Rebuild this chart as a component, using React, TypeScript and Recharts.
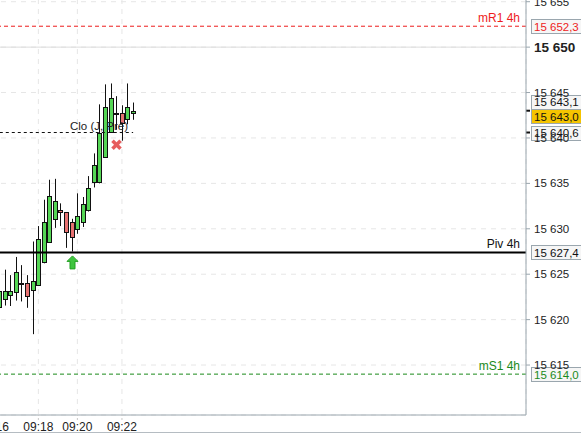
import React from 'react';
import {
  ComposedChart,
  Bar,
  Scatter,
  XAxis,
  YAxis,
  CartesianGrid,
  ReferenceLine,
} from 'recharts';

// candles (oldest first), prices
const opens = [15620.6, 15621.4, 15622.3, 15622.7, 15623.0, 15624.0, 15624.05, 15623.3, 15623.8, 15626.3, 15628.6, 15631.1, 15632.1, 15631.8, 15630.8, 15630.0, 15630.7, 15632.1, 15635.1, 15635.1, 15637.9, 15640.7, 15642.6, 15642.7, 15642.1, 15642.8];
const highs = [15622.0, 15623.8, 15625.5, 15624.9, 15626.9, 15626.0, 15624.9, 15628.6, 15630.3, 15633.2, 15635.4, 15635.5, 15632.8, 15631.85, 15631.1, 15633.9, 15633.5, 15635.8, 15638.3, 15643.7, 15645.9, 15646.0, 15644.6, 15643.6, 15646.0, 15643.9];
const lows = [15619.8, 15621.0, 15621.55, 15621.5, 15622.1, 15622.0, 15621.3, 15618.4, 15623.7, 15626.2, 15628.5, 15630.1, 15630.3, 15627.9, 15627.5, 15629.45, 15630.2, 15631.9, 15634.55, 15635.0, 15637.8, 15640.6, 15640.9, 15639.7, 15641.5, 15642.0];
const closes = [15621.4, 15623.2, 15623.2, 15623.2, 15625.2, 15624.0, 15622.6, 15624.3, 15628.9, 15630.7, 15633.6, 15633.1, 15631.8, 15629.6, 15629.1, 15631.4, 15632.7, 15634.5, 15637.0, 15640.6, 15643.4, 15644.4, 15642.8, 15641.6, 15643.4, 15643.0];

const slots = 96;
const timeLabels = ['09:16', '09:18', '09:20', '09:22'];
const timeIdx = [0, 8, 15, 23];
const yTicks = [15615, 15620, 15625, 15630, 15635, 15640, 15645, 15650, 15655];

const pivot = 15627.4;
const mR1 = 15652.3;
const mS1 = 15614.0;
const prevClose = 15640.6;
const bid = 15643.1;
const last = 15643.0;

// trade markers: candle index and price
const buyIdx = [14];
const buyPrice = [15626.3];
const sellIdx = [22];
const sellPrice = [15639.25];

const rows: any[] = Array.from({ length: slots }, (_, i) =>
  i < opens.length
    ? { i, o: opens[i], h: highs[i], l: lows[i], c: closes[i] }
    : { i }
);
buyIdx.forEach((k, n) => (rows[k].buy = buyPrice[n]));
sellIdx.forEach((k, n) => (rows[k].sell = sellPrice[n]));

const FONT = '"Liberation Sans", Arial, sans-serif';
const AXIS = '#9aa6ae';
const GREEN = '#55d655';
const RED = '#e87272';

const fmt = (v: number, d = 0) => {
  const [int, dec] = v.toFixed(d).split('.');
  return int.slice(0, -3) + ' ' + int.slice(-3) + (dec ? ',' + dec : '');
};

const Candle = (props: any) => {
  const { x, y, width, height, payload } = props;
  if (payload.h == null || !height) return null;
  const k = height / (payload.h - payload.l);
  const py = (v: number) => y + (payload.h - v) * k;
  const cx = Math.round(x + width / 2);
  const top = Math.round(Math.min(py(payload.o), py(payload.c)));
  const bot = Math.round(Math.max(py(payload.o), py(payload.c)));
  const fill = payload.c > payload.o ? GREEN : payload.c < payload.o ? RED : '#222';
  return (
    <g>
      <line x1={cx + 0.5} x2={cx + 0.5} y1={y} y2={y + height} stroke="#111" strokeWidth={1} />
      <rect x={cx - 1.5} y={top + 0.5} width={4} height={Math.max(bot - top, 1)} fill={fill} stroke="#111" strokeWidth={1} />
    </g>
  );
};

const UpArrow = ({ cx, cy, payload }: any) => {
  if (payload?.buy == null || !Number.isFinite(cy)) return null;
  const x = Math.round(cx) + 0.5;
  return (
    <path
      d={`M${x},${cy - 6.5} L${x + 5.5},${cy - 1} L${x + 2.5},${cy - 1} L${x + 2.5},${cy + 6.5} L${x - 2.5},${cy + 6.5} L${x - 2.5},${cy - 1} L${x - 5.5},${cy - 1} Z`}
      fill="#3ec43e"
      stroke="#23a023"
      strokeWidth={1}
    />
  );
};

const Cross = ({ cx, cy, payload }: any) => {
  if (payload?.sell == null || !Number.isFinite(cy)) return null;
  const x = Math.round(cx) + 0.5;
  return (
    <g stroke="#e65c5c" strokeWidth={3.5}>
      <line x1={x - 4} y1={cy - 4} x2={x + 4} y2={cy + 4} />
      <line x1={x + 4} y1={cy - 4} x2={x - 4} y2={cy + 4} />
    </g>
  );
};

const YTick = ({ x, y, payload }: any) => {
  const major = payload.value === 15650;
  return (
    <text x={x} y={y} dy={major ? 5 : 4} fontFamily={FONT} fontSize={major ? 13.5 : 11.5} fontWeight={major ? 'bold' : 'normal'} fill="#222">
      {fmt(payload.value)}
    </text>
  );
};

const PriceTag = ({ viewBox, text, color = '#111', fill = '#f6f6f6', shift = 0, name, mark }: any) => {
  if (!viewBox) return null;
  const { x, y, width } = viewBox;
  const right = x + width;
  const ty = y + shift;
  return (
    <g>
      {name && (
        <text x={right - 6} y={y - 4} textAnchor="end" fill={color} fontSize={12} fontFamily={FONT}>
          {name}
        </text>
      )}
      {mark && <line x1={right} x2={right + 4} y1={y} y2={y} stroke="#111" strokeWidth={2} />}
      <rect x={right + 5.5} y={Math.round(ty - 7) + 0.5} width={60} height={14} fill={fill} stroke={AXIS} />
      <text x={right + 8} y={ty + 4.5} fill={color} fontSize={11.5} fontFamily={FONT}>
        {text}
      </text>
    </g>
  );
};

const SegLabel = ({ viewBox }: any) => {
  if (!viewBox) return null;
  return (
    <text x={viewBox.x + viewBox.width - 5} y={viewBox.y - 3} textAnchor="end" fill="#222" fontSize={11.5} fontFamily={FONT}>
      Clo (J, Pré)
    </text>
  );
};

export default function App() {
  return (
    <div style={{ position: 'absolute', left: 0, top: 0, width: 581, height: 434, overflow: 'hidden', background: '#fff' }}>
      <div style={{ position: 'absolute', left: -9, top: -21 }}>
        <ComposedChart width={590} height={454} data={rows} margin={{ top: 0, right: 0, bottom: 0, left: 0 }}>
          <CartesianGrid stroke="#e6e6e6" strokeDasharray="5 5" />
          <XAxis
            dataKey="i"
            type="category"
            ticks={timeIdx}
            interval={0}
            tickFormatter={(v: number) => timeLabels[timeIdx.indexOf(v)]}
            height={18}
            tickSize={5}
            axisLine={{ stroke: AXIS }}
            tickLine={{ stroke: '#c8c8c8', strokeDasharray: '2 2' }}
            tick={{ fill: '#222', fontSize: 12, fontFamily: FONT }}
          />
          <YAxis
            orientation="right"
            type="number"
            domain={[15609.5, 15657.5]}
            allowDataOverflow
            ticks={yTicks}
            width={55}
            tickSize={4}
            tickMargin={4}
            axisLine={{ stroke: AXIS }}
            tickLine={{ stroke: AXIS }}
            tick={<YTick />}
          />
          <ReferenceLine y={15650} stroke="#dcdcdc" />
          <ReferenceLine
            segment={[{ x: 0, y: prevClose }, { x: opens.length - 1, y: prevClose }]}
            stroke="#111"
            strokeDasharray="3 3"
            label={<SegLabel />}
          />
          <ReferenceLine y={pivot} stroke="#000" strokeWidth={2} label={<PriceTag text={fmt(pivot, 1)} name="Piv 4h" />} />
          <ReferenceLine y={mR1} stroke="#ee1c1c" strokeDasharray="4 3" label={<PriceTag text={fmt(mR1, 1)} name="mR1 4h" color="#ee1c1c" />} />
          <ReferenceLine y={mS1} stroke="#1a8a1a" strokeDasharray="4 3" label={<PriceTag text={fmt(mS1, 1)} name="mS1 4h" color="#1a8a1a" />} />
          <Bar
            dataKey={(d: any) => (d.h == null ? null : [d.l, d.h])}
            barSize={5}
            shape={<Candle />}
            isAnimationActive={false}
          />
          <Scatter dataKey="buy" shape={<UpArrow />} isAnimationActive={false} />
          <Scatter dataKey="sell" shape={<Cross />} isAnimationActive={false} />
          <ReferenceLine y={prevClose} stroke="none" label={<PriceTag text={fmt(prevClose, 1)} mark />} />
          <ReferenceLine y={bid} stroke="none" label={<PriceTag text={fmt(bid, 1)} shift={-8} />} />
          <ReferenceLine y={last} stroke="none" label={<PriceTag text={fmt(last, 1)} fill="#f5c400" shift={5.5} mark />} />
        </ComposedChart>
      </div>
      <div style={{ position: 'absolute', left: 0, top: 432, width: 581, height: 1, background: '#b5bcc2' }} />
    </div>
  );
}
